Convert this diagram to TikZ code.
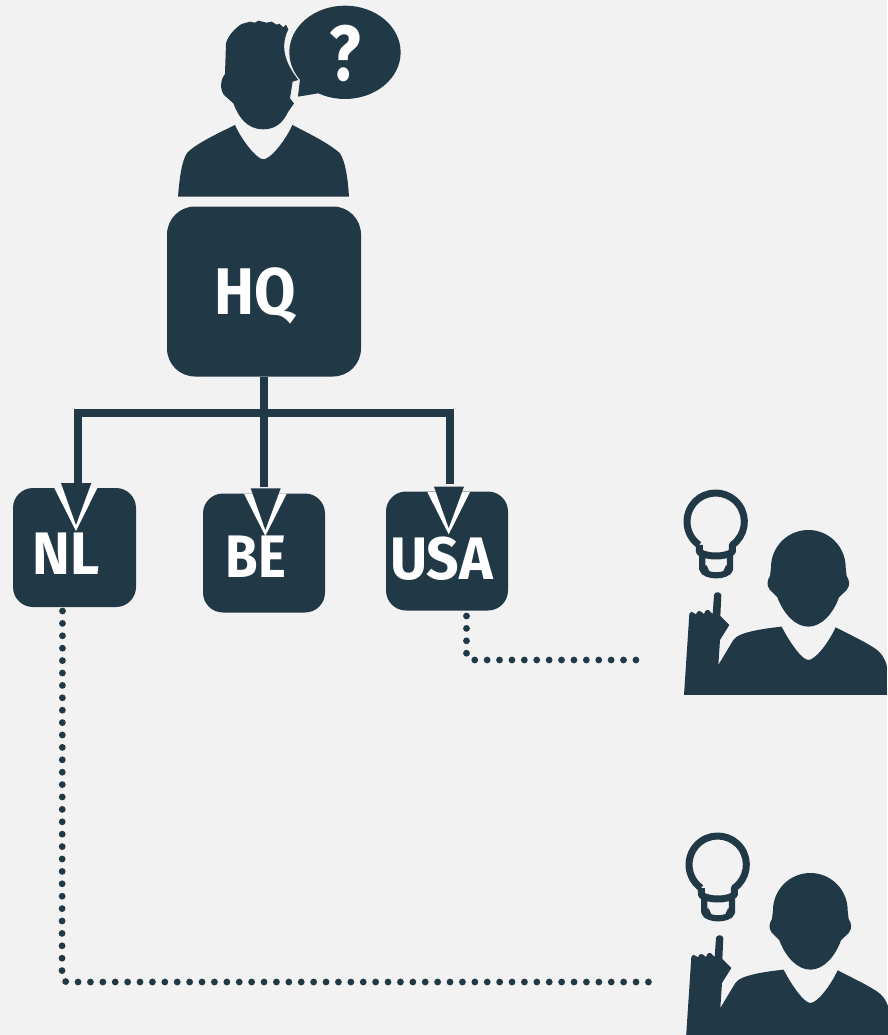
\documentclass[tikz,border=0pt]{standalone}
\usepackage{fontspec}
\setmainfont{Fira Sans}
\definecolor{navy}{HTML}{213846}
\definecolor{paper}{HTML}{F2F2F2}
\tikzset{
  box/.style={fill=navy,rounded corners=#1,inner sep=0pt,outer sep=0pt},
  lbl/.style={text=white,font=\bfseries\fontsize{#1}{#1}\selectfont,inner sep=0pt,transform shape},
  link/.style={draw=navy,line width=8.8pt},
  dots/.style={draw=navy,line width=6.8pt,line cap=round,dash pattern=on 0pt off 12.4pt,rounded corners=6pt},
  ink/.style={fill=navy},
}
% person with bulb, drawn in the coordinates of a 3x crop
\newcommand{\ideaperson}[2]{%
\begin{scope}[shift={(#1,#2)},x=0.3333pt,y=-0.3333pt]
  \draw[draw=navy,line width=7pt,line join=round]
    (88,195) -- (88,216) .. controls (110,232) and (165,232) .. (187,216) -- (187,195)
    arc[start angle=54.5,end angle=-234.5,radius=86];
  \draw[draw=navy,line width=6.2pt,line join=round]
    (97,228) -- (97,268) .. controls (105,292) and (172,292) .. (180,268) -- (180,228);
  \fill[ink] (98,256) -- (110,256) -- (120,278) -- (158,278) -- (168,256) -- (180,256) -- (180,285) -- (98,285) -- cycle;
  \fill[ink] (303,262) arc[start angle=180,end angle=360,radius=112]
    -- (530,288) .. controls (538,300) and (542,315) .. (530,330) -- (507,352)
    .. controls (490,400) and (455,440) .. (415,440)
    .. controls (375,440) and (340,400) .. (322,352) -- (300,330)
    .. controls (288,315) and (292,300) .. (300,288) -- cycle;
  \fill[ink] (42,645) -- (58,402) .. controls (60,394) and (66,394) .. (70,398)
    -- (78,403) .. controls (82,393) and (88,391) .. (92,394) -- (102,402)
    .. controls (106,390) and (112,388) .. (116,390) -- (128,402) -- (132,345)
    .. controls (134,334) and (152,334) .. (154,345) -- (151,408) -- (178,435)
    -- (150,480) -- (145,555) -- (190,480) .. controls (205,455) and (290,445) .. (335,440)
    .. controls (355,480) and (395,540) .. (415,540) .. controls (435,540) and (475,490) .. (497,442)
    .. controls (535,462) and (575,480) .. (610,502) .. controls (635,518) and (645,535) .. (651,560) -- (651,645) -- cycle;
\end{scope}}
\begin{document}
\begin{tikzpicture}[x=1pt,y=-1pt]
\path[use as bounding box,fill=paper] (0,0) rectangle (887,1035);

% questioning person
\begin{scope}[shift={(160,0)},x=0.3333pt,y=-0.3333pt]
  \fill[ink] (385,88) -- (378,74) -- (370,82) -- (358,71) -- (350,74) -- (335,65) -- (320,68)
    -- (295,62) -- (285,68) -- (270,65) -- (245,72) .. controls (225,85) and (205,105) .. (198,130) -- (195,222)
    .. controls (180,240) and (180,270) .. (192,285) -- (220,310)
    .. controls (235,350) and (260,388) .. (310,388)
    .. controls (350,388) and (370,365) .. (385,335) -- (402,310) -- (390,295) -- (398,245) -- (415,240)
    .. controls (385,200) and (355,150) .. (385,88) -- cycle;
  \fill[ink] (54,590) .. controls (58,540) and (65,480) .. (82,458)
    .. controls (110,430) and (170,402) .. (225,375)
    .. controls (245,420) and (290,478) .. (310,478)
    .. controls (330,478) and (375,425) .. (397,375)
    .. controls (450,402) and (510,432) .. (540,460)
    .. controls (556,485) and (563,530) .. (567,590) -- cycle;
  \fill[ink] (555,157) ellipse[x radius=167,y radius=140];
  \fill[ink] (420,238) -- (414,290) -- (475,280) -- (520,200) -- cycle;
\end{scope}
\node[lbl=78,xscale=0.84] (qm) at (345,53.5) {?};

% boxes
\node[box=28pt,minimum width=194pt,minimum height=170pt] (hq) at (264,291.5) {};
\node[box=20pt,minimum width=123pt,minimum height=119pt] (nl) at (74.5,547.5) {};
\node[box=20pt,minimum width=122pt,minimum height=119pt] (be) at (264,553) {};
\node[box=20pt,minimum width=122pt,minimum height=119pt] (usa) at (447,551) {};

% connectors
\coordinate (junction) at (264,413);
\coordinate (nlend) at (78,484);
\coordinate (beend) at (264,487);
\coordinate (usaend) at (450,484);
\draw[link] (hq.south) -- (beend);
\draw[link,line join=miter] (nlend) -- (78,413) -- (450,413) -- (usaend);

% arrowheads
\fill[white] (54.3,488) -- (97.3,488) -- (76,531) -- cycle;
\fill[ink] (61,483) -- (91.3,483) -- (76,525) -- cycle;
\fill[white] (244,493.7) -- (286.7,493.7) -- (265.3,536) -- cycle;
\fill[ink] (250.7,488.3) -- (280.7,488.3) -- (265.3,530) -- cycle;
\fill[white] (427.3,492) -- (470,492) -- (448.7,534.3) -- cycle;
\fill[ink] (434,486.7) -- (464,486.7) -- (448.7,528) -- cycle;

% labels
\node[lbl=66,xscale=0.91] (hqt) at (255.5,296) {HQ};
\node[lbl=60,xscale=0.95] (nlt) at (66.5,553.5) {NL};
\node[lbl=60,xscale=0.88] (bet) at (256,557) {BE};
\node[lbl=60,xscale=0.95] (usat) at (441.5,558.5) {USA};

% idea people
\ideaperson{670}{480}
\ideaperson{672}{823}

% dotted links
\coordinate (usadot) at (636,660);
\coordinate (nldot) at (650,982);
\draw[dots] (466.5,616) -- (466.5,660) -- (usadot);
\draw[dots] (62.5,611) -- (62,982) -- (nldot);
\end{tikzpicture}
\end{document}
